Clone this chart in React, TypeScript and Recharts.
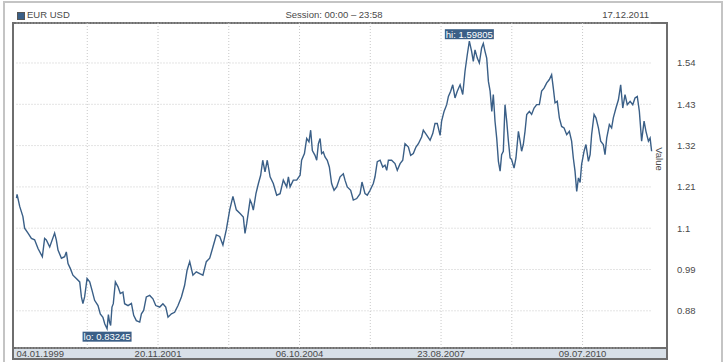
import React from "react";
import { LineChart, Line, XAxis, YAxis, CartesianGrid, ReferenceLine, ReferenceDot } from "recharts";

// trading-day index since 04.01.1999
const days = [
  0, 3, 17, 34, 43, 61, 79, 96, 114, 137, 149, 158, 176, 202, 211, 220, 238, 255, 264, 273,
  285, 299, 317, 335, 344, 352, 361, 374, 388, 400, 414, 432, 444, 458, 468, 480, 487, 493, 499, 506,
  513, 524, 538, 550, 564, 573, 591, 609, 621, 635, 653, 662, 674, 688, 706, 723, 738, 759, 776, 791,
  803, 821, 838, 856, 874, 891, 904, 918, 935, 953, 971, 988, 1006, 1024, 1041, 1059, 1077, 1094, 1112, 1130,
  1147, 1165, 1185, 1202, 1211, 1220, 1238, 1246, 1255, 1269, 1282, 1294, 1305, 1317, 1329, 1344, 1361, 1379, 1397, 1414,
  1432, 1441, 1450, 1467, 1485, 1503, 1511, 1526, 1538, 1550, 1559, 1568, 1582, 1591, 1600, 1609, 1617, 1626, 1635, 1647,
  1658, 1670, 1683, 1697, 1715, 1732, 1741, 1753, 1771, 1785, 1803, 1821, 1831, 1847, 1859, 1874, 1891, 1900, 1912, 1927,
  1941, 1953, 1962, 1971, 1988, 2006, 2018, 2033, 2047, 2059, 2077, 2089, 2103, 2117, 2130, 2147, 2156, 2174, 2192, 2206,
  2218, 2230, 2245, 2253, 2266, 2280, 2289, 2301, 2312, 2324, 2336, 2351, 2365, 2377, 2389, 2400, 2412, 2421, 2430, 2442,
  2453, 2465, 2474, 2483, 2492, 2501, 2510, 2519, 2527, 2536, 2545, 2554, 2563, 2571, 2580, 2589, 2598, 2607, 2616, 2624,
  2637, 2647, 2660, 2669, 2677, 2686, 2695, 2704, 2718, 2730, 2743, 2757, 2771, 2783, 2796, 2810, 2824, 2836, 2845, 2854,
  2866, 2877, 2889, 2902, 2916, 2930, 2942, 2951, 2960, 2969, 2978, 2987, 2995, 3008, 3018, 3031, 3040, 3048, 3061, 3071,
  3084, 3096, 3110, 3119, 3128, 3142, 3154, 3163, 3177, 3190, 3202, 3213, 3225, 3237, 3252, 3266, 3278, 3290, 3301, 3313,
  3326, 3336, 3349, 3358, 3366,
];

const rates = [
  1.18, 1.19, 1.158, 1.131, 1.1, 1.087, 1.073, 1.069, 1.046, 1.024, 1.073, 1.069, 1.05, 1.087, 1.069, 1.042, 1.02, 1.024, 1.037, 1.006,
  0.993, 0.975, 0.966, 0.957, 0.917, 0.899, 0.917, 0.966, 0.957, 0.935, 0.908, 0.894, 0.872, 0.863, 0.845, 0.83245, 0.87, 0.85, 0.841, 0.89,
  0.899, 0.957, 0.944, 0.926, 0.93, 0.899, 0.894, 0.9, 0.868, 0.854, 0.85, 0.872, 0.881, 0.917, 0.921, 0.912, 0.894, 0.89, 0.899, 0.89,
  0.863, 0.872, 0.876, 0.894, 0.917, 0.948, 0.988, 1.011, 0.975, 0.984, 0.979, 0.975, 1.011, 1.02, 1.05, 1.082, 1.078, 1.055, 1.096, 1.149,
  1.185, 1.149, 1.139, 1.13, 1.086, 1.112, 1.175, 1.166, 1.148, 1.192, 1.219, 1.241, 1.281, 1.25, 1.281, 1.237, 1.219, 1.188, 1.192, 1.228,
  1.21, 1.237, 1.21, 1.228, 1.228, 1.241, 1.281, 1.299, 1.339, 1.33, 1.361, 1.307, 1.294, 1.281, 1.325, 1.339, 1.299, 1.303, 1.29, 1.281,
  1.263, 1.219, 1.201, 1.21, 1.237, 1.245, 1.228, 1.21, 1.201, 1.175, 1.179, 1.192, 1.223, 1.192, 1.188, 1.201, 1.219, 1.237, 1.277, 1.281,
  1.263, 1.268, 1.254, 1.281, 1.281, 1.272, 1.254, 1.272, 1.281, 1.325, 1.316, 1.294, 1.299, 1.316, 1.325, 1.343, 1.361, 1.348, 1.334, 1.352,
  1.379, 1.379, 1.347, 1.385, 1.411, 1.429, 1.451, 1.465, 1.482, 1.447, 1.465, 1.482, 1.456, 1.518, 1.562, 1.59805, 1.571, 1.544, 1.575, 1.553,
  1.54, 1.58, 1.592, 1.571, 1.553, 1.491, 1.465, 1.411, 1.456, 1.385, 1.34, 1.278, 1.252, 1.296, 1.305, 1.429, 1.385, 1.332, 1.287, 1.283,
  1.26, 1.287, 1.358, 1.332, 1.305, 1.323, 1.358, 1.403, 1.411, 1.403, 1.42, 1.429, 1.429, 1.465, 1.473, 1.487, 1.496, 1.509, 1.473, 1.434,
  1.438, 1.394, 1.371, 1.367, 1.349, 1.358, 1.332, 1.287, 1.252, 1.198, 1.234, 1.222, 1.27, 1.305, 1.323, 1.278, 1.296, 1.349, 1.403, 1.394,
  1.367, 1.332, 1.323, 1.296, 1.34, 1.376, 1.367, 1.394, 1.42, 1.442, 1.482, 1.42, 1.456, 1.429, 1.438, 1.429, 1.447, 1.451, 1.411, 1.332,
  1.385, 1.358, 1.332, 1.34, 1.305,
];

const xTickDays = [0, 750, 1500, 2250, 3000];
const xTickLabels = ["04.01.1999", "20.11.2001", "06.10.2004", "23.08.2007", "09.07.2010"];
const xGridDays = [375, 750, 1125, 1500, 1875, 2250, 2625, 3000];
const yTicks = [0.88, 0.99, 1.1, 1.21, 1.32, 1.43, 1.54];
const hiPoint = { day: 2400, value: 1.59805 };
const loPoint = { day: 480, value: 0.83245 };

const data = days.map((d, i) => ({ day: d, rate: rates[i] }));

const FONT = "'Liberation Sans', Arial, sans-serif";
const LINE = "#3a5f87";
const TEXT = "#4a4a4a";

function XTick(props: any) {
  const { x, y, payload } = props;
  const i = xTickDays.indexOf(payload.value);
  return (
    <text x={x} y={y} dy={9} textAnchor={i === 0 ? "start" : "middle"} fontSize={9.5} fontFamily={FONT} fill={TEXT}>
      {xTickLabels[i]}
    </text>
  );
}

function YTick(props: any) {
  const { x, y, payload } = props;
  return (
    <text x={x + 25} y={y} dy="0.355em" textAnchor="start" fontSize={9.5} fontFamily={FONT} fill={TEXT}>
      {String(payload.value)}
    </text>
  );
}

function Badge(props: any & { text: string; below?: boolean }) {
  const { cx, cy, text, below } = props;
  const w = 49;
  const top = below ? cy + 3 : cy - 12;
  return (
    <g>
      <rect x={cx - w / 2} y={top} width={w} height={10} fill={LINE} />
      <text x={cx} y={top + 8.5} textAnchor="middle" fontSize={9.5} fontFamily={FONT} fill="#fff">
        {text}
      </text>
    </g>
  );
}

export default function App() {
  return (
    <div style={{ position: "absolute", left: 0, top: 0, width: 725, height: 362, overflow: "hidden", background: "#fff", fontFamily: FONT }}>
      {/* outer frame */}
      <div style={{ position: "absolute", left: 3, top: 1, width: 720, height: 380, border: "2px solid #c4c4c4", boxSizing: "border-box" }} />
      {/* header */}
      <div style={{ position: "absolute", left: 17, top: 12, width: 6, height: 6, background: LINE, border: "1px solid #555" }} />
      <div style={{ position: "absolute", left: 27, top: 9, fontSize: 9.5, lineHeight: "11px", color: TEXT, whiteSpace: "pre" }}>EUR USD</div>
      <div style={{ position: "absolute", left: 234, width: 200, textAlign: "center", top: 9, fontSize: 9.5, lineHeight: "11px", color: TEXT }}>
        Session: 00:00 – 23:58
      </div>
      <div style={{ position: "absolute", left: 549, width: 100, textAlign: "right", top: 9, fontSize: 9.5, lineHeight: "11px", color: TEXT }}>
        17.12.2011
      </div>
      {/* plot frame and axis band */}
      <div style={{ position: "absolute", left: 12, top: 22, width: 656, height: 338, border: "2px solid #6e6e6e", boxSizing: "border-box" }} />
      <div style={{ position: "absolute", left: 12, top: 347, width: 656, height: 13, background: "#d8e0e8", borderTop: "2px solid #6e6e6e", border: "2px solid #6e6e6e", boxSizing: "border-box" }} />
      <div style={{ position: "absolute", left: 639, top: 153, width: 40, height: 12, lineHeight: "12px", textAlign: "center", fontSize: 9.5, color: TEXT, transform: "rotate(90deg)" }}>
        Value
      </div>
      <div style={{ position: "absolute", left: 0, top: 0 }}>
        <LineChart width={725} height={362} data={data} margin={{ top: 23, right: 0, bottom: 0, left: 16.5 }}>
          <CartesianGrid vertical={false} stroke="#c8c8c8" strokeDasharray="1 2" />
          {xGridDays.map((d) => (
            <ReferenceLine key={d} x={d} stroke="#c8c8c8" strokeDasharray="1 2" />
          ))}
          <XAxis
            dataKey="day"
            type="number"
            domain={[0, 3368]}
            ticks={xTickDays}
            interval={0}
            height={14}
            tickSize={0}
            tickMargin={0}
            axisLine={false}
            tickLine={false}
            tick={<XTick />}
          />
          <YAxis
            orientation="right"
            type="number"
            domain={[0.781, 1.6465]}
            ticks={yTicks}
            interval={0}
            width={73}
            tickSize={0}
            tickMargin={0}
            axisLine={false}
            tickLine={false}
            tick={<YTick />}
          />
          <Line dataKey="rate" type="linear" stroke={LINE} strokeWidth={1.4} dot={false} isAnimationActive={false} />
          <ReferenceDot x={hiPoint.day} y={hiPoint.value} r={0} shape={(p: any) => <Badge {...p} text={`hi: ${hiPoint.value}`} />} />
          <ReferenceDot x={loPoint.day} y={loPoint.value} r={0} shape={(p: any) => <Badge {...p} below text={`lo: ${loPoint.value}`} />} />
        </LineChart>
      </div>
    </div>
  );
}
